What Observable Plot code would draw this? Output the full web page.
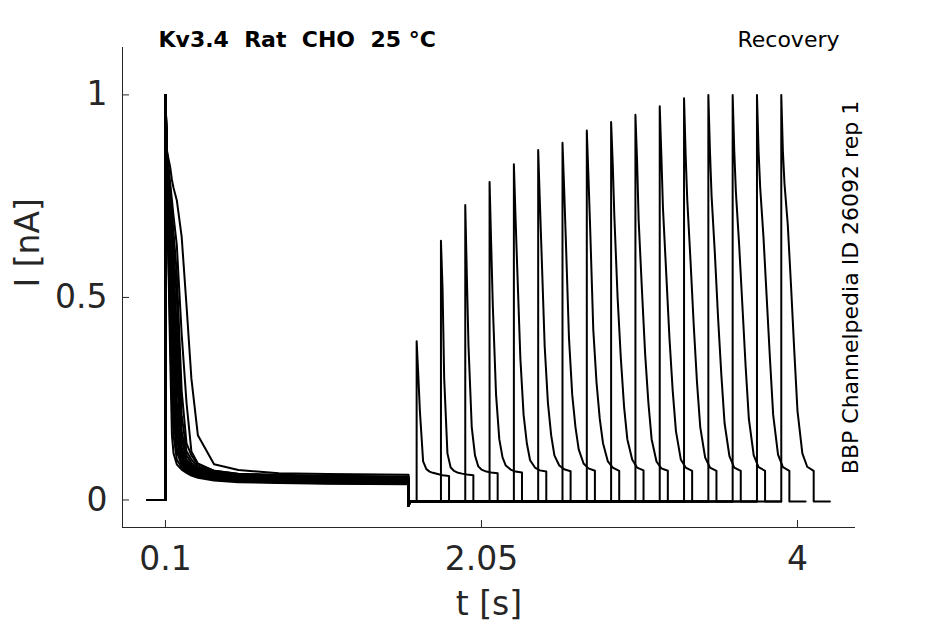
<!DOCTYPE html>
<html><head><meta charset="utf-8">
<script src="https://cdn.jsdelivr.net/npm/d3@7"></script>
<script src="https://cdn.jsdelivr.net/npm/@observablehq/plot@0.6"></script>
<style>
html,body{margin:0;padding:0;background:#fff;}
svg text{white-space:pre;}
</style></head><body><div id="chart"></div>
<script>
// ---- data ----
const titleText = "Kv3.4  Rat  CHO  25 °C";
const protocolText = "Recovery";
const sourceText = "BBP Channelpedia ID 26092 rep 1";
const xLabel = "t [s]";
const yLabel = "I [nA]";
const xTicks = [0.1, 2.05, 4];
const yTicks = [0, 0.5, 1];
const xDomain = [-0.165, 4.358];
const yDomain = [-0.068, 1.117];

// protocol timing (s)
const traceStart = -0.01;
const pulse1On = 0.1;
const pulse1Off = 1.6;
const pulse2Len = 0.2;
const afterLen = 0.1;
const baseline = -0.004;
const offDip = -0.014;

// first pulse: values at offsets after 0.1 s, one row per sweep
const offsets1 = [0, 0.01, 0.02, 0.03, 0.04, 0.05, 0.07, 0.1, 0.13, 0.16, 0.2, 0.3, 0.45, 0.7, 1.0, 1.5];
const pulse1 = [
  [1, 0.86, 0.84, 0.82, 0.79, 0.77, 0.74, 0.65, 0.48, 0.30, 0.16, 0.088, 0.074, 0.066, 0.064, 0.062],
  [1, 0.86, 0.82, 0.78, 0.74, 0.70, 0.63, 0.41, 0.24, 0.12, 0.090, 0.072, 0.065, 0.062, 0.060, 0.058],
  [1, 0.85, 0.80, 0.76, 0.71, 0.66, 0.56, 0.27, 0.14, 0.11, 0.088, 0.072, 0.064, 0.060, 0.058, 0.056],
  [1, 0.85, 0.79, 0.74, 0.68, 0.62, 0.50, 0.21, 0.12, 0.10, 0.083, 0.069, 0.062, 0.058, 0.056, 0.054],
  [1, 0.84, 0.78, 0.72, 0.65, 0.58, 0.42, 0.17, 0.11, 0.092, 0.079, 0.067, 0.060, 0.056, 0.054, 0.052],
  [1, 0.84, 0.77, 0.70, 0.62, 0.54, 0.36, 0.15, 0.10, 0.087, 0.076, 0.065, 0.058, 0.055, 0.053, 0.051],
  [1, 0.83, 0.75, 0.67, 0.58, 0.50, 0.30, 0.13, 0.095, 0.083, 0.073, 0.063, 0.057, 0.054, 0.052, 0.050],
  [1, 0.82, 0.73, 0.64, 0.54, 0.45, 0.24, 0.12, 0.090, 0.080, 0.070, 0.061, 0.056, 0.053, 0.051, 0.049],
  [1, 0.81, 0.71, 0.61, 0.51, 0.41, 0.21, 0.11, 0.087, 0.077, 0.068, 0.060, 0.055, 0.052, 0.050, 0.048],
  [1, 0.80, 0.69, 0.58, 0.47, 0.37, 0.19, 0.105, 0.084, 0.075, 0.066, 0.058, 0.053, 0.050, 0.048, 0.046],
  [1, 0.80, 0.67, 0.55, 0.43, 0.32, 0.17, 0.10, 0.082, 0.073, 0.065, 0.057, 0.052, 0.049, 0.047, 0.045],
  [1, 0.79, 0.65, 0.52, 0.39, 0.28, 0.15, 0.095, 0.079, 0.071, 0.063, 0.055, 0.050, 0.047, 0.045, 0.044],
  [1, 0.78, 0.62, 0.48, 0.35, 0.24, 0.13, 0.090, 0.076, 0.068, 0.061, 0.053, 0.049, 0.046, 0.044, 0.042],
  [1, 0.77, 0.60, 0.44, 0.30, 0.20, 0.12, 0.085, 0.073, 0.066, 0.059, 0.052, 0.047, 0.044, 0.042, 0.041],
  [1, 0.76, 0.57, 0.40, 0.24, 0.16, 0.10, 0.080, 0.070, 0.063, 0.057, 0.050, 0.046, 0.043, 0.041, 0.040],
  [1, 0.74, 0.55, 0.34, 0.16, 0.115, 0.088, 0.075, 0.067, 0.060, 0.055, 0.048, 0.044, 0.042, 0.040, 0.039]
];

// second (test) pulse: onset times, peaks, and values at offsets after the peak
const pulse2On = [1.65, 1.80, 1.95, 2.10, 2.25, 2.40, 2.55, 2.70, 2.85, 3.00, 3.15, 3.30, 3.45, 3.60, 3.75, 3.90];
const pulse2Peak = [0.392, 0.640, 0.728, 0.785, 0.829, 0.864, 0.882, 0.912, 0.933, 0.951, 0.972, 0.992, 1.0, 1.0, 1.0, 1.0];
const offsets2 = [0.01, 0.02, 0.04, 0.06, 0.08, 0.10, 0.13, 0.16, 0.20];
const pulse2 = [
  [0.31, 0.22, 0.095, 0.076, 0.070, 0.067, 0.064, 0.061, 0.059],
  [0.52, 0.30, 0.115, 0.080, 0.072, 0.068, 0.065, 0.063, 0.061],
  [0.55, 0.38, 0.18, 0.11, 0.083, 0.075, 0.070, 0.068, 0.066],
  [0.63, 0.48, 0.26, 0.15, 0.105, 0.085, 0.075, 0.070, 0.068],
  [0.70, 0.58, 0.35, 0.21, 0.14, 0.098, 0.080, 0.073, 0.070],
  [0.74, 0.62, 0.38, 0.24, 0.16, 0.11, 0.085, 0.076, 0.071],
  [0.77, 0.65, 0.40, 0.26, 0.18, 0.125, 0.090, 0.078, 0.072],
  [0.80, 0.68, 0.42, 0.29, 0.20, 0.14, 0.095, 0.080, 0.072],
  [0.83, 0.70, 0.50, 0.35, 0.23, 0.15, 0.10, 0.080, 0.073],
  [0.84, 0.69, 0.52, 0.36, 0.24, 0.15, 0.095, 0.078, 0.072],
  [0.85, 0.72, 0.56, 0.40, 0.27, 0.17, 0.10, 0.080, 0.072],
  [0.85, 0.74, 0.59, 0.43, 0.29, 0.18, 0.105, 0.080, 0.072],
  [0.86, 0.75, 0.61, 0.45, 0.31, 0.19, 0.108, 0.080, 0.072],
  [0.86, 0.76, 0.63, 0.48, 0.33, 0.20, 0.110, 0.081, 0.072],
  [0.86, 0.77, 0.65, 0.50, 0.35, 0.21, 0.112, 0.081, 0.072],
  [0.86, 0.78, 0.68, 0.53, 0.37, 0.22, 0.115, 0.082, 0.072]
];

// ---- build the long table for Plot ----
const rows = [];
pulse2On.forEach((on2, k) => {
  const add = (t, v) => rows.push({trace: k, t, v});
  add(traceStart, 0);
  add(pulse1On, 0);
  offsets1.forEach((o, i) => add(pulse1On + o, pulse1[k][i]));
  add(pulse1Off, offDip);
  add(pulse1Off + 0.01, baseline);
  add(on2, baseline);
  add(on2, pulse2Peak[k]);
  offsets2.forEach((o, i) => add(on2 + o, pulse2[k][i]));
  add(on2 + pulse2Len, baseline);
  add(on2 + pulse2Len + afterLen, baseline);
});

const W = 945, H = 624, mL = 122, mR = 90, mT = 47, mB = 97;
const frameW = W - mL - mR, frameH = H - mT - mB;
const ink = "#262626";

const chart = Plot.plot({
  width: W, height: H,
  marginLeft: mL, marginRight: mR, marginTop: mT, marginBottom: mB,
  style: {fontFamily: "DejaVu Sans", color: ink, background: "#fff", overflow: "visible"},
  x: {domain: xDomain},
  y: {domain: yDomain},
  marks: [
    Plot.ruleX([xDomain[0]], {stroke: ink, strokeWidth: 1}),
    Plot.ruleY([yDomain[0]], {stroke: ink, strokeWidth: 1}),
    Plot.tickX(xTicks, {x: d => d, insetTop: frameH - 7, stroke: ink}),
    Plot.tickY(yTicks, {y: d => d, insetRight: frameW - 7, stroke: ink}),
    Plot.axisX({ticks: xTicks, tickSize: 0, tickPadding: 19, fontSize: 33, tickFormat: d => String(d), label: null}),
    Plot.axisY({ticks: yTicks, tickSize: 0, tickPadding: 15, fontSize: 33, tickFormat: d => String(d), label: null}),
    Plot.line(rows, {x: "t", y: "v", z: "trace", stroke: "black", strokeWidth: 2, strokeLinejoin: "round", curve: "linear"}),
    Plot.text([xLabel], {text: d => d, frameAnchor: "bottom", dy: 77, fontSize: 33, lineAnchor: "middle", fill: ink}),
    Plot.text([yLabel], {text: d => d, frameAnchor: "left", dx: -94, rotate: -90, fontSize: 33, lineAnchor: "middle", fill: ink}),
    Plot.text([titleText], {text: d => d, frameAnchor: "top-left", dx: 36, dy: -8, textAnchor: "start", lineAnchor: "middle", fontSize: 22, fontWeight: "bold", fill: "black"}),
    Plot.text([protocolText], {text: d => d, frameAnchor: "top-right", dx: -16, dy: -8, textAnchor: "end", lineAnchor: "middle", fontSize: 22, fill: "black"}),
    Plot.text([sourceText], {text: d => d, frameAnchor: "right", dx: -5, rotate: -90, textAnchor: "middle", lineAnchor: "middle", fontSize: 22, fill: "black"})
  ]
});
document.getElementById("chart").appendChild(chart);
</script>
</body></html>
